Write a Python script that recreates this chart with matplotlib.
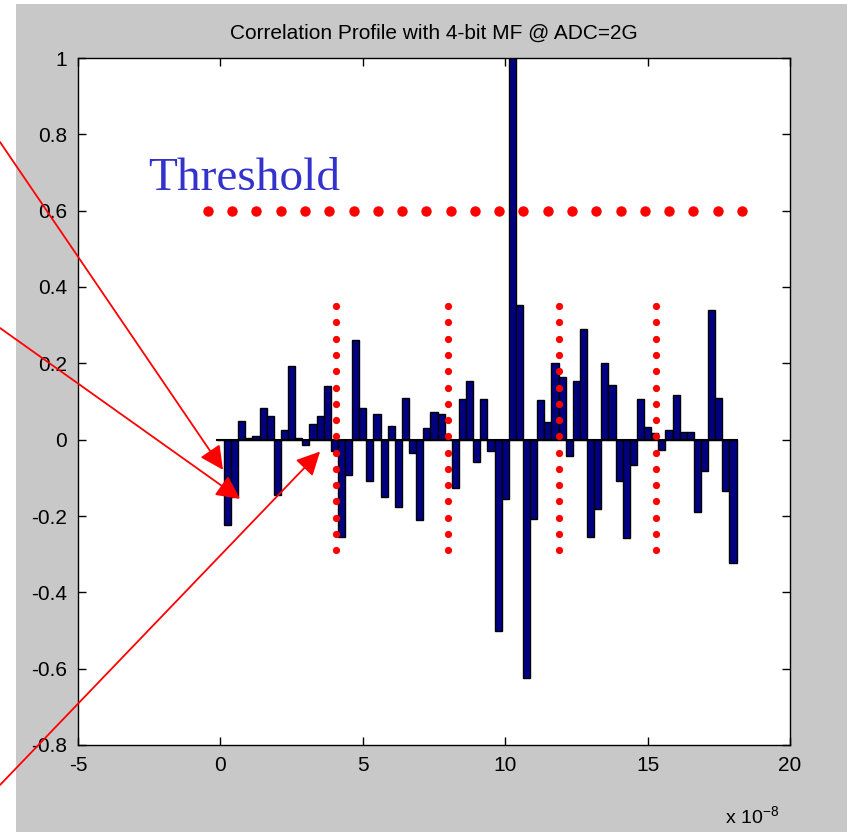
import numpy as np
import matplotlib
matplotlib.use('Agg')
import matplotlib.pyplot as plt
from matplotlib.patches import Rectangle

# correlation values, one every 0.25 (x 1e-8 s)
step = 0.25
corr = [0.0, -0.224, -0.15, 0.05, 0.005, 0.01, 0.083, 0.061, -0.146, 0.026,
        0.194, 0.004, -0.013, 0.041, 0.062, 0.14, -0.03, -0.255, -0.093, 0.262,
        0.083, -0.109, 0.066, -0.151, 0.035, -0.177, 0.109, -0.035, -0.21, 0.031,
        0.073, 0.067, 0.0, -0.127, 0.106, 0.154, -0.059, 0.106, -0.031, -0.502,
        -0.155, 1.0, 0.352, -0.624, -0.208, 0.105, 0.046, 0.2, 0.163, -0.044,
        0.153, 0.29, -0.254, -0.182, 0.2, 0.143, -0.109, -0.258, -0.066, 0.106,
        0.032, 0.017, -0.028, 0.026, 0.116, 0.02, 0.02, -0.19, -0.082, 0.341,
        0.11, -0.134, -0.323]
xs = np.arange(len(corr)) * step

threshold = 0.6
thr_span = (-0.44, 18.31)
thr_ndots = 23
marker_x = [4.05, 8.0, 11.9, 15.3]
marker_span = (-0.29, 0.35)
marker_ndots = 16

# arrow tips (data) and tails (figure pixels, from bottom-left)
arrow_tips = [(0.09, -0.079), (0.69, -0.155), (3.5, -0.031)]
arrow_tails = [(0, 690), (0, 504), (0, 47)]

xticks = [-5, 0, 5, 10, 15, 20]
yticks = [-0.8, -0.6, -0.4, -0.2, 0, 0.2, 0.4, 0.6, 0.8, 1]
title = 'Correlation Profile with 4-bit MF @ ADC=2G'

sans = ['Liberation Sans Narrow', 'Liberation Sans', 'DejaVu Sans']
plt.rcParams['font.family'] = sans


def main():
    fig = plt.figure(figsize=(8.47, 8.32), dpi=100, facecolor='white')
    # grey matlab figure area
    fig.patches.append(Rectangle((16 / 847, 0), 1, 1 - 4 / 832, transform=fig.transFigure,
                                 facecolor='#c8c8c8', edgecolor='none', zorder=-10))
    ax = fig.add_axes([78 / 847, 1 - 745 / 832, 712 / 847, 687 / 832])
    ax.set_facecolor('white')

    ax.bar(xs, corr, width=step, color='#000080', edgecolor='black', linewidth=1.0, zorder=2)
    ax.plot([xs[0] - step / 2, xs[-1] + step / 2], [0, 0], color='black', lw=1.5, zorder=3)

    ax.set_xlim(-5, 20)
    ax.set_ylim(-0.8, 1)
    ax.set_xticks(xticks)
    ax.set_xticklabels(['%g' % t for t in xticks])
    ax.set_yticks(yticks)
    ax.set_yticklabels(['%g' % t for t in yticks])
    ax.tick_params(direction='in', top=True, right=True, length=6, width=1,
                   labelsize=15, pad=8, colors='black')
    for s in ax.spines.values():
        s.set_linewidth(1.0)
    ax.set_title(title, fontsize=15, pad=14)
    ax.text(0.985, -0.115, r'x 10$^{\mathregular{-8}}$', transform=ax.transAxes, ha='right',
            va='baseline', fontsize=14)

    # threshold
    tx = np.linspace(thr_span[0], thr_span[1], thr_ndots)
    ax.plot(tx, [threshold] * len(tx), 'o', color='#ff0000', ms=7.5, mec='none', zorder=5,
            clip_on=False)
    ax.text(-2.54, 0.655, 'Threshold', color='#3333cc', fontsize=34,
            family=['Liberation Serif', 'DejaVu Serif'], ha='left', va='baseline')

    # vertical dotted markers
    for mx in marker_x:
        my = np.linspace(marker_span[0], marker_span[1], marker_ndots)
        ax.plot([mx] * len(my), my, 'o', color='#ff0000', ms=5.2, mec='none', zorder=5)

    for tip, tail in zip(arrow_tips, arrow_tails):
        ax.annotate('', xy=tip, xycoords='data', xytext=tail, textcoords='figure pixels',
                    arrowprops=dict(arrowstyle='-|>', color='#ff0000', lw=1.3,
                                    mutation_scale=36, shrinkA=0, shrinkB=0),
                    annotation_clip=False, zorder=6)

    fig.savefig('out.png', dpi=100, facecolor=fig.get_facecolor())


if __name__ == '__main__':
    main()
